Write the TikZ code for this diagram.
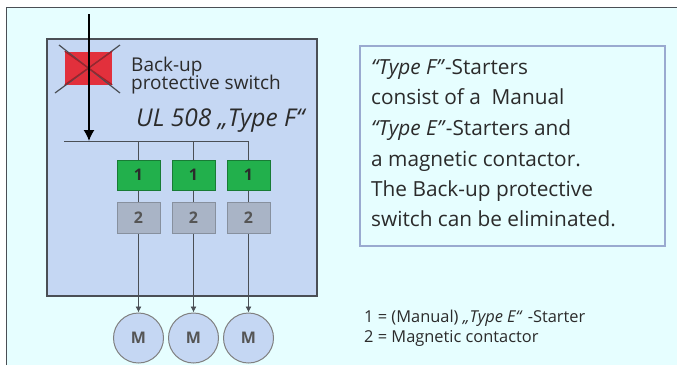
\documentclass[tikz,border=0pt]{standalone}
\usepackage{fontspec}
\setmainfont{Open Sans}
\usetikzlibrary{arrows.meta}
\definecolor{bgc}{HTML}{E6FEFF}
\definecolor{panelc}{HTML}{C5D7F3}
\definecolor{framec}{HTML}{4A4F55}
\definecolor{noteline}{HTML}{9AAAD0}
\definecolor{redc}{HTML}{E2303C}
\definecolor{greenc}{HTML}{22B04C}
\definecolor{greyc}{HTML}{A9B4C6}
\definecolor{txt}{HTML}{2B2B2B}
\tikzset{
 startbox/.style={draw=greenc!70!black,fill=greenc,line width=1pt,minimum width=43pt,minimum height=30pt,inner sep=0pt,text=txt,font=\fontsize{16}{16}\selectfont\bfseries},
 contactbox/.style={draw=greyc!80!black,fill=greyc,line width=1pt,minimum width=43pt,minimum height=31pt,inner sep=0pt,text=txt!80,font=\fontsize{16}{16}\selectfont\bfseries},
 motor/.style={circle,draw=gray,fill=panelc,line width=1pt,minimum size=50pt,inner sep=0pt,text=txt!80,font=\fontsize{16}{16}\selectfont\bfseries},
 wire/.style={draw=framec,line width=.9pt},
 thin arrow/.style={wire,-{Latex[length=6pt,width=6pt]}},
 label/.style={anchor=base west,inner sep=0pt,text=txt},
 noteline/.style={label,font=\fontsize{20.8}{20.8}\selectfont},
 keyline/.style={label,font=\fontsize{16.4}{16.4}\selectfont},
 switchtxt/.style={label,font=\fontsize{19}{19}\selectfont},
}
\begin{document}
\begin{tikzpicture}[x=1pt,y=-1pt]
\useasboundingbox (0,0) rectangle (677,365);
\fill[white] (0,0) rectangle (677,365);
\fill[bgc] (6,7) rectangle (677,365);
\draw[framec,line width=1pt] (6,365) -- (6,7) -- (677,7);
\node[draw=framec,fill=panelc,line width=2pt,minimum width=270pt,minimum height=257pt,inner sep=0pt,anchor=north west] (panel) at (46,38) {};
\node[draw=noteline,line width=1.5pt,minimum width=305pt,minimum height=200pt,inner sep=0pt,anchor=north west] (note) at (359,45) {};
% switch
\node[fill=redc,minimum width=47pt,minimum height=33pt,inner sep=0pt] (sw) at (88.5,68) {};
\coordinate (xa) at (59,45);
\coordinate (xb) at (120,93);
\coordinate (xc) at (120,45);
\coordinate (xd) at (55,93);
\draw[framec,line width=1.2pt] (xa) -- (xb);
\draw[framec,line width=1.2pt] (xc) -- (xd);
\draw[redc!70!black,line width=1.2pt] (sw.north west) -- (sw.south east);
\draw[redc!70!black,line width=1.2pt] (sw.north east) -- (sw.south west);
% feed
\coordinate (top) at (89,14);
\coordinate (busl) at (64,141);
\coordinate (busf) at (89,141);
\coordinate (busr) at (249,141);
\draw[black,line width=1.5pt,-{Latex[length=11pt,width=11pt]}] (top) -- (busf);
\draw[wire] (busl) -- (busr);
% columns
\foreach \n/\x in {a/138.5,b/193.5,c/248.5}{
  \node[startbox] (s\n) at (\x,175) {1};
  \node[contactbox] (k\n) at (\x,218) {2};
  \node[motor] (m\n) at (\x,338) {M};
  \coordinate (b\n) at (\x,141);
  \draw[wire] (b\n) -- (s\n);
  \draw[wire] (s\n) -- (k\n);
  \draw[thin arrow] (k\n) -- (m\n);
}
% labels
\node[switchtxt] (l1) at (131,71) {Back-up};
\node[switchtxt] (l2) at (131,89) {protective switch};
\node[label,font=\fontsize{24.5}{24.5}\selectfont\itshape] (ul) at (136,126) {UL 508 „Type F“};
\node[noteline] (n1) at (371,74) {\textit{“Type F”}-Starters};
\node[noteline] (n2) at (371,104) {consist of a\ \ Manual};
\node[noteline] (n3) at (371,135) {\textit{“Type E”}-Starters and};
\node[noteline] (n4) at (371,166) {a magnetic contactor.};
\node[noteline] (n5) at (371,196) {The Back-up protective};
\node[noteline] (n6) at (371,226) {switch can be eliminated.};
\node[keyline] (k1) at (364,322) {1 = (Manual) \textit{„Type E“}\hspace{5pt}-Starter};
\node[keyline] (k2) at (364,342) {2 = Magnetic contactor};
\end{tikzpicture}
\end{document}
